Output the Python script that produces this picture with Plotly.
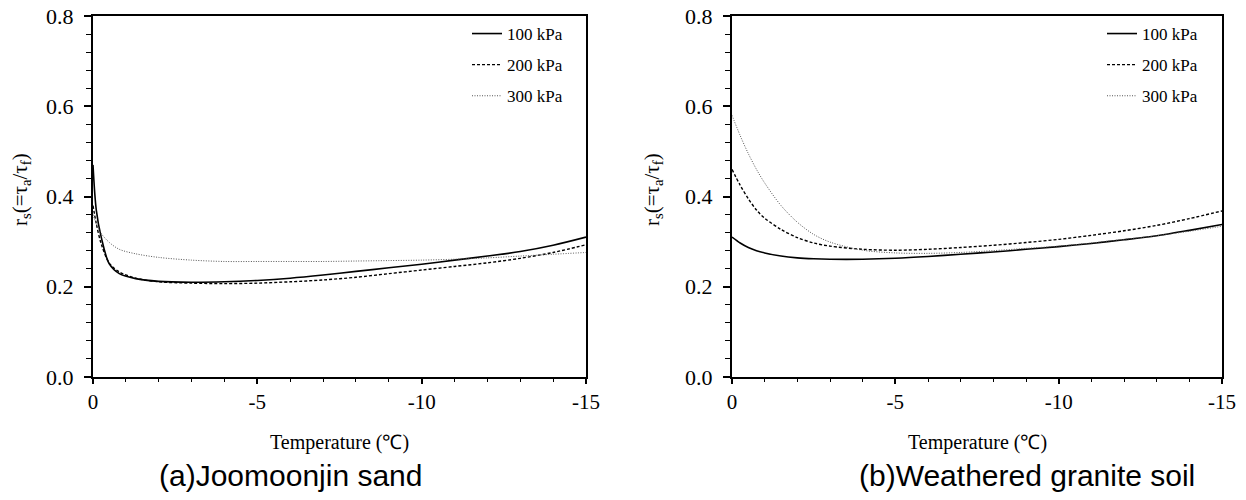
import plotly.graph_objects as go

# ---- data ----
temp_a = [0, -0.1, -0.25, -0.5, -0.8, -1.3, -2, -3, -4, -5, -6, -7, -8, -9, -10, -11, -12, -13, -14, -15]
a_100 = [0.47, 0.37, 0.31, 0.25, 0.229, 0.218, 0.212, 0.210, 0.211, 0.214, 0.219, 0.226, 0.234, 0.242, 0.250, 0.259, 0.268, 0.278, 0.292, 0.310]
a_200 = [0.38, 0.34, 0.295, 0.252, 0.233, 0.219, 0.211, 0.208, 0.207, 0.208, 0.211, 0.215, 0.221, 0.229, 0.237, 0.245, 0.253, 0.263, 0.276, 0.293]
a_300 = [0.36, 0.34, 0.318, 0.298, 0.283, 0.273, 0.265, 0.259, 0.256, 0.256, 0.256, 0.256, 0.257, 0.258, 0.259, 0.261, 0.264, 0.268, 0.272, 0.276]

temp_b = [0, -0.25, -0.5, -0.75, -1, -1.5, -2, -2.5, -3, -4, -5, -6, -7, -8, -9, -10, -11, -12, -13, -14, -15]
b_100 = [0.31, 0.297, 0.287, 0.280, 0.275, 0.268, 0.264, 0.262, 0.261, 0.261, 0.263, 0.267, 0.272, 0.277, 0.283, 0.289, 0.296, 0.304, 0.313, 0.325, 0.338]
b_200 = [0.46, 0.425, 0.395, 0.370, 0.352, 0.327, 0.309, 0.297, 0.290, 0.283, 0.281, 0.283, 0.287, 0.292, 0.298, 0.305, 0.314, 0.324, 0.336, 0.351, 0.368]
b_300 = [0.58, 0.535, 0.495, 0.460, 0.430, 0.380, 0.343, 0.316, 0.299, 0.281, 0.275, 0.274, 0.276, 0.280, 0.285, 0.290, 0.297, 0.305, 0.313, 0.323, 0.334]

series_names = ["100 kPa", "200 kPa", "300 kPa"]
x_tickvals = [0, -5, -10, -15]
x_ticktext = ["0", "-5", "-10", "-15"]
captions = ["(a)Joomoonjin sand", "(b)Weathered granite soil"]
x_title = "Temperature (℃)"
y_title = "r<sub>s</sub>(=τ<sub>a</sub>/τ<sub>f</sub>)"

# page is 1246x500, the HTML body adds an 8px margin, so the figure is
# sized to fit inside it and page-pixel positions are converted below
OFF = 8
FW, FH = 1246 - 2 * OFF, 500 - 2 * OFF
def px(x):
    return (x - OFF) / FW
def py(y):
    return 1 - (y - OFF) / FH

SERIF = "Liberation Serif"
SANS = "Liberation Sans"

styles = [
    dict(color="black", width=1.6, dash="solid"),
    dict(color="black", width=1.4, dash="3px,2px"),
    dict(color="#555555", width=1.0, dash="1px,1.5px"),
]

fig = go.Figure()

panels = [
    ("x", "y", "legend", temp_a, [a_100, a_200, a_300]),
    ("x2", "y2", "legend2", temp_b, [b_100, b_200, b_300]),
]
for xa, ya, lg, t, ys in panels:
    for i, (name, vals) in enumerate(zip(series_names, ys)):
        fig.add_trace(go.Scatter(
            x=t, y=vals, mode="lines", name=name,
            line=dict(shape="spline", smoothing=0.9, **styles[i]),
            xaxis=xa, yaxis=ya, legend=lg, legendgroup=f"{lg}_{i}",
        ))

xdom_a = [px(93), px(586)]
xdom_b = [px(732), px(1222)]
ydom = [py(377), py(16)]

def xaxis(dom, anchor):
    return dict(
        domain=dom, anchor=anchor, range=[0, -15], automargin=False,
        tickvals=x_tickvals, ticktext=x_ticktext, ticklabeloverflow="allow",
        ticks="outside", ticklen=5, tickwidth=1.5, tickcolor="black",
        minor=dict(dtick=1, ticks="outside", ticklen=3, tickwidth=1.2, tickcolor="black"),
        showline=True, linecolor="black", linewidth=2, mirror=True,
        showgrid=False, zeroline=False,
        tickfont=dict(family=SERIF, size=21, color="black"),
    )

def yaxis(anchor):
    return dict(
        domain=ydom, anchor=anchor, range=[0, 0.8], dtick=0.2, tick0=0, tickformat=".1f",
        automargin=False, ticklabeloverflow="allow",
        ticks="outside", ticklen=7, tickwidth=1.5, tickcolor="black",
        minor=dict(dtick=0.04, ticks="outside", ticklen=5, tickwidth=1.2, tickcolor="black"),
        showline=True, linecolor="black", linewidth=2, mirror=True,
        showgrid=False, zeroline=False, ticklabelstandoff=6,
        tickfont=dict(family=SERIF, size=22, color="black"),
    )

def legend(xr):
    return dict(
        x=xr, y=py(16), xanchor="left", yanchor="top",
        bgcolor="rgba(0,0,0,0)", borderwidth=0, tracegroupgap=6,
        font=dict(family=SERIF, size=17, color="black"),
    )

annotations = []
for xc, yx in [((xdom_a[0] + xdom_a[1]) / 2, px(21)), ((xdom_b[0] + xdom_b[1]) / 2, px(653))]:
    annotations.append(dict(text=x_title, x=xc, y=py(442), xref="paper", yref="paper",
                            showarrow=False, xanchor="center", yanchor="middle",
                            font=dict(family=SERIF, size=20, color="black")))
    annotations.append(dict(text=y_title, x=yx, y=py(190), xref="paper", yref="paper",
                            showarrow=False, textangle=-90, xanchor="center", yanchor="middle",
                            font=dict(family=SERIF, size=21, color="black")))
for cap, xc in zip(captions, [px(290), px(1027)]):
    annotations.append(dict(text=cap, x=xc, y=py(475), xref="paper", yref="paper",
                            showarrow=False, xanchor="center", yanchor="middle",
                            font=dict(family=SANS, size=30, color="black")))

fig.update_layout(
    width=FW, height=FH, margin=dict(l=0, r=0, t=0, b=0, autoexpand=False),
    plot_bgcolor="white", paper_bgcolor="white",
    xaxis=xaxis(xdom_a, "y"), yaxis=yaxis("x"),
    xaxis2=xaxis(xdom_b, "y2"), yaxis2=yaxis("x2"),
    legend=legend(px(467)), legend2=legend(px(1102)),
    annotations=annotations, showlegend=True,
)

fig.write_html("out.html")
